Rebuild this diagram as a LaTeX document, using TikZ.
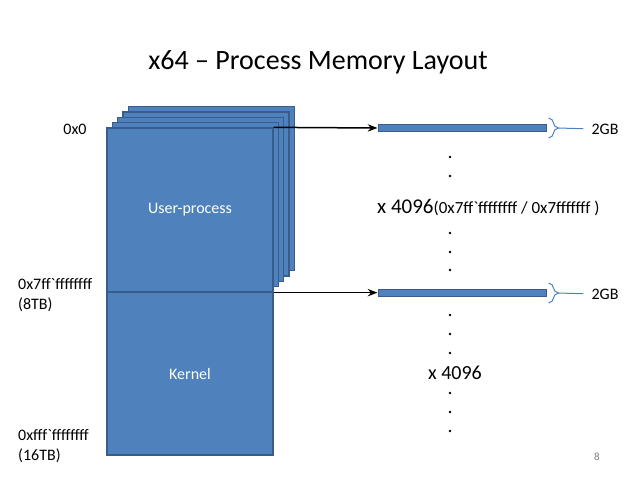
\documentclass[tikz,border=0pt]{standalone}
\usepackage{fontspec}
\setmainfont{Carlito}
\usetikzlibrary{arrows.meta}
\usetikzlibrary{decorations.pathreplacing}
\tikzset{>=Stealth}
\definecolor{memblue}{RGB}{79,129,189}
\definecolor{memedge}{RGB}{56,93,138}
\tikzset{
  memblock/.style={draw=memedge, fill=memblue, line width=1.3pt, inner sep=0pt,
    minimum width=166pt, minimum height=164pt, text=white,
    font=\fontsize{16}{19}\selectfont},
  pagebar/.style={draw=memedge, fill=memblue, line width=1pt, inner sep=0pt,
    minimum width=168pt, minimum height=7pt},
  sizebrace/.style={draw=memblue, line width=1pt, decorate,
    decoration={brace, amplitude=10pt}},
  lbl/.style={font=\fontsize{16}{20}\selectfont, inner sep=0pt}
}

\begin{document}
\begin{tikzpicture}[x=1pt, y=-1pt]
  \useasboundingbox (0,0) rectangle (638,479);
  \xdef\cx{190}
  \xdef\sh{5.3}
  \node[font=\fontsize{28}{33}\selectfont] (title) at (318,62) {x64 -- Process Memory Layout};
  \foreach \k in {4,3,2,1}{
    \node[memblock] (layer\k) at ({\cx+\sh*\k},{210-\sh*\k}) {};
  }
  \node[memblock] (user) at (\cx,210) {User-process};
  \node[memblock, minimum height=163pt] (kernel) at (\cx,373.5) {Kernel};
  \node[pagebar] (bar1) at (462,128) {};
  \node[pagebar] (bar2) at (462,293) {};
  \draw[->, line width=1.5pt] (user.north east) -- (bar1.west);
  \draw[->, line width=1.5pt] (user.south east) -- (user.south east -| bar2.west);
  \foreach \b in {1,2}{
    \node[lbl] (gb\b) at (605,{\b==1 ? 129 : 294}) {2GB};
    \draw[sizebrace] ([xshift=2pt,yshift=10pt]bar\b.east) -- ([xshift=2pt,yshift=-10pt]bar\b.east);
    \draw[memblue, line width=1pt, shorten >=8pt] ([xshift=12pt]bar\b.east) -- (gb\b.west);
  }
  \foreach \y in {157,176,233,252,270,315,334,353,393,412,431}{
    \fill (450,\y) circle (1.4pt);
  }
  \node[anchor=west, inner sep=0pt] (count1) at (377,208)
    {\fontsize{21}{25}\selectfont x 4096{\fontsize{17}{20}\selectfont(0x7ff\textasciigrave ffffffff / 0x7fffffff )}};
  \node[font=\fontsize{20}{24}\selectfont, inner sep=0pt] (count2) at (455,373) {x 4096};
  \node[lbl] (addr0) at (75,129) {0x0};
  \node[lbl, anchor=north west, align=left] (addr8) at (18,278) {0x7ff\textasciigrave ffffffff\\(8TB)};
  \node[lbl, anchor=north west, align=left] (addr16) at (18,429) {0xfff\textasciigrave ffffffff\\(16TB)};
  \node[text=gray, font=\fontsize{11}{13}\selectfont] (pageno) at (597,457) {8};
\end{tikzpicture}
\end{document}
